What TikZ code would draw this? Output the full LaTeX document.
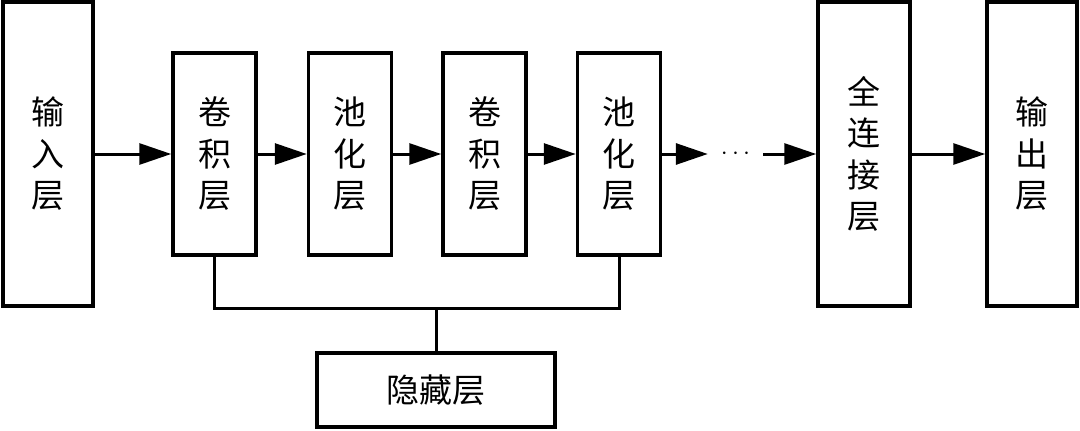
\documentclass[tikz,border=0pt]{standalone}
\usepackage{fontspec}
\newfontfamily\cjk{Noto Sans CJK SC}
\usetikzlibrary{arrows.meta}
\begin{document}
\begin{tikzpicture}[x=1pt,y=-1pt,
  layer/.style={draw=black,line width=3.5pt,fill=white,inner sep=0pt,
    font=\cjk\fontsize{33}{41.5}\selectfont,align=center},
  conn/.style={line width=3pt,-{Triangle[length=32pt,width=21pt]}},
  link/.style={line width=3pt}]
\useasboundingbox (0,0) rectangle (1080,431);
\node[layer,minimum width=90pt,minimum height=304pt] (in) at (48,154) {输\\入\\层};
\node[layer,minimum width=83pt,minimum height=202pt] (c1) at (214.5,154) {卷\\积\\层};
\node[layer,minimum width=83pt,minimum height=202pt] (p1) at (350,154) {池\\化\\层};
\node[layer,minimum width=83pt,minimum height=202pt] (c2) at (484.5,154) {卷\\积\\层};
\node[layer,minimum width=83pt,minimum height=202pt] (p2) at (619,154) {池\\化\\层};
\node[inner sep=0pt,minimum width=55pt,font=\fontsize{26}{26}\selectfont] (dots) at (735.5,154) {$\cdots$};
\node[layer,minimum width=92pt,minimum height=304pt] (fc) at (864,154) {全\\连\\接\\层};
\node[layer,minimum width=90pt,minimum height=304pt] (out) at (1032,154) {输\\出\\层};
\node[layer,minimum width=238pt,minimum height=74pt] (h) at (436,390) {隐藏层};
\coordinate (j) at (436,308);
\draw[conn] (in.east) -- (c1.west);
\draw[conn] (c1.east) -- (p1.west);
\draw[conn] (p1.east) -- (c2.west);
\draw[conn] (c2.east) -- (p2.west);
\draw[conn] (p2.east) -- (dots.west);
\draw[conn] (dots.east) -- (fc.west);
\draw[conn] (fc.east) -- (out.west);
\draw[link] (c1.south) -- (c1.south |- j) -- (p2.south |- j) -- (p2.south);
\draw[link] (j) -- (h.north);
\end{tikzpicture}
\end{document}
